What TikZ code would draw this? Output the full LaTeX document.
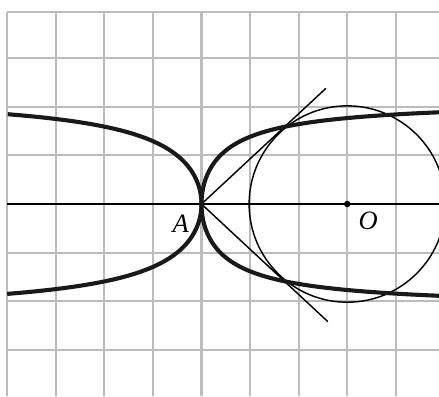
\documentclass[tikz,border=0pt]{standalone}
\usepackage{fontspec}
\setmainfont{Liberation Serif}
\definecolor{gridgray}{RGB}{188,188,192}
\tikzset{
  gridline/.style={draw=gridgray, line width=1.2pt},
  axisline/.style={draw=black, line width=0.9pt},
  thincurve/.style={draw=black, line width=0.85pt},
  thickcurve/.style={draw=black!90, line width=2.4pt},
  lbl/.style={font=\fontsize{15.5}{15.5}\selectfont\itshape, inner sep=0pt},
}
\begin{document}
\begin{tikzpicture}[x=1cm,y=1cm]
\useasboundingbox (-4.146,-3.951) rectangle (4.887,4.198);
\clip (-4.146,-3.951) rectangle (4.887,4.198);
% grid
\foreach \i in {-4,...,4} \draw[gridline] (\i,-3.951) -- (\i,3.96);
\foreach \j in {-3,...,3} \draw[gridline] (-4,\j) -- (4.887,\j);
\draw[gridline] (-4,3.96) -- (4.887,3.96);
% points
\coordinate (A) at (0,0);
\coordinate (O) at (3,0);
\coordinate (Lend) at (-4,0);
\coordinate (Rend) at (4.887,0);
\coordinate (T1) at (2.56,2.38);
\coordinate (T2) at (2.6,-2.42);
% axis
\draw[axisline] (Lend) -- (Rend);
% circle
\draw[thincurve] (O) circle (2.02);
% tangent lines
\draw[thincurve] (A) -- (T1);
\draw[thincurve] (A) -- (T2);
% thick curves
\draw[thickcurve] plot[domain=-1.9:1.9, samples=120, smooth, variable=\t]
  ({1.39*\t*\t/(4.58-\t*\t)}, {\t});
\draw[thickcurve] plot[domain=-1.849:1.849, samples=120, smooth, variable=\t]
  ({-2.13*\t*\t/(5.24-\t*\t)}, {\t});
% dot and labels
\fill (O) circle (1.9pt);
\node[lbl] (Alab) at (-0.43,-0.40) {A};
\node[lbl] (Olab) at (3.43,-0.34) {O};
\end{tikzpicture}
\end{document}
